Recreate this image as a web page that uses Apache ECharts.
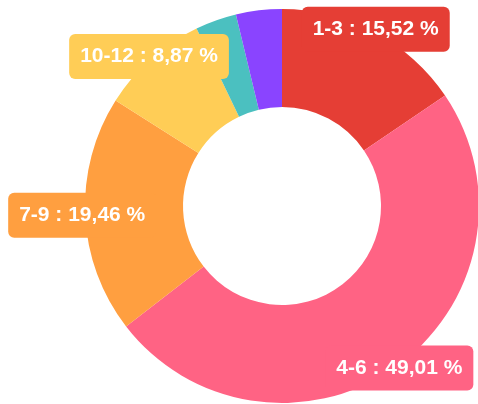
<!DOCTYPE html>
<html>
<head>
<meta charset="utf-8">
<script src="https://cdn.jsdelivr.net/npm/echarts@6/dist/echarts.min.js"></script>
<style>
html,body{margin:0;padding:0;background:#fff;}
#chart{width:478px;height:404px;}
</style>
</head>
<body>
<div id="chart"></div>
<script>
// Data
const categories = ['1-3', '4-6', '7-9', '10-12', '13-15', '16+'];
const values = [15.52, 49.01, 19.46, 8.87, 3.38, 3.76];
const colors = ['#e53e35', '#ff6384', '#ff9f40', '#ffcd56', '#4bc0c0', '#8a44ff'];
const showLabel = [true, true, true, true, false, false];

const chart = echarts.init(document.getElementById('chart'), null, {renderer: 'canvas'});

const pieData = categories.map((c, i) => ({
  name: c,
  value: values[i],
  itemStyle: {color: colors[i]}
}));

const labelData = categories.map((c, i) => ({
  name: c,
  value: values[i],
  itemStyle: {color: 'rgba(0,0,0,0)'},
  label: {
    show: showLabel[i],
    backgroundColor: colors[i]
  }
}));

const center = [282, 206];

chart.setOption({
  animation: false,
  series: [
    {
      type: 'pie',
      z: 2,
      center: center,
      radius: [99, 197],
      startAngle: 90,
      clockwise: true,
      silent: true,
      label: {show: false},
      labelLine: {show: false},
      itemStyle: {borderWidth: 0},
      data: pieData
    },
    {
      type: 'pie',
      z: 3,
      center: center,
      radius: [196, 198],
      startAngle: 90,
      clockwise: true,
      silent: true,
      labelLine: {show: false},
      itemStyle: {borderWidth: 0},
      label: {
        show: true,
        position: 'inside',
        color: '#fff',
        fontFamily: 'Liberation Sans',
        fontWeight: 'bold',
        fontSize: 21,
        lineHeight: 21,
        padding: [12, 11],
        borderRadius: 6,
        formatter: function (p) {
          return p.name + ' : ' + p.value.toFixed(2).replace('.', ',') + ' %';
        }
      },
      data: labelData
    }
  ]
});
</script>
</body>
</html>
